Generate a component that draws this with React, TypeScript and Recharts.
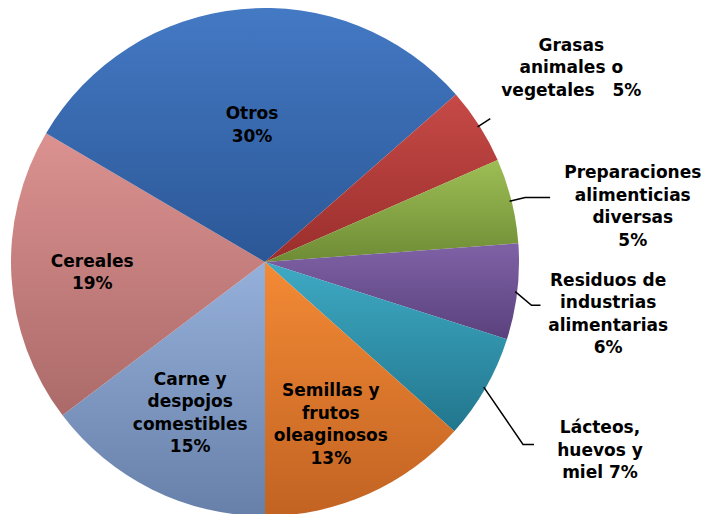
import React from 'react';
import { PieChart, Pie, Cell } from 'recharts';

const categories = [
  'Carne y despojos comestibles',
  'Cereales',
  'Otros',
  'Grasas animales o vegetales',
  'Preparaciones alimenticias diversas',
  'Residuos de industrias alimentarias',
  'Lácteos, huevos y miel',
  'Semillas y frutos oleaginosos',
];
const shares = [14.7, 18.8, 30.1, 4.9, 5.4, 6.1, 6.7, 13.4];
const labelLines = [
  ['Carne y', 'despojos', 'comestibles', '15%'],
  ['Cereales', '19%'],
  ['Otros', '30%'],
  ['Grasas', 'animales o', 'vegetales\u00a0\u00a0 5%'],
  ['Preparaciones', 'alimenticias', 'diversas', '5%'],
  ['Residuos de', 'industrias', 'alimentarias', '6%'],
  ['Lácteos,', 'huevos y', 'miel 7%'],
  ['Semillas y', 'frutos', 'oleaginosos', '13%'],
];

// top / bottom colours of each slice's gradient
const topColors = ['#95B0DA', '#DB9290', '#4479C4', '#C64A47', '#9DBE55', '#7F62A6', '#3FAAC4', '#F38A35'];
const bottomColors = ['#6780A9', '#AB6A69', '#2B5796', '#9A2E2C', '#6E8C35', '#5A417D', '#21768D', '#C26323'];

// label placement: radius, angle nudge, leader elbow radius / nudge / tail
const labelLayout = [
  { r: 168, da: 0 },
  { r: 173, da: 0 },
  { r: 138, da: 0 },
  { r: 363, da: 0, elbowR: 267, elbowDa: 0, tail: 0 },
  { r: 372, da: -5.3, elbowR: 268, elbowDa: 0, tail: 25 },
  { r: 347, da: -1.8, elbowR: 270, elbowDa: -2.5, tail: 9 },
  { r: 384, da: 0.5, elbowR: 316, elbowDa: -5.5, tail: 11 },
  { r: 175, da: -2, },
];

const data = categories.map((name, i) => ({ name, value: shares[i] }));

const RAD = Math.PI / 180;
const polar = (cx: number, cy: number, r: number, deg: number) => ({
  x: cx + r * Math.cos(-deg * RAD),
  y: cy + r * Math.sin(-deg * RAD),
});

const LINE_H = 22.5;

const renderLabel = (props: any) => {
  const { cx, cy, midAngle, outerRadius, index } = props;
  const lay: any = labelLayout[index];
  const lines = labelLines[index];
  const p = polar(cx, cy, lay.r, midAngle + lay.da);
  const y0 = p.y - ((lines.length - 1) * LINE_H) / 2;
  let leader = null;
  if (lay.elbowR) {
    const a = polar(cx, cy, outerRadius - 2, midAngle);
    const b = polar(cx, cy, lay.elbowR, midAngle + lay.elbowDa);
    const pts = `${a.x},${a.y} ${b.x},${b.y} ${b.x + lay.tail},${b.y}`;
    leader = <polyline points={pts} fill="none" stroke="#000" strokeWidth={1.5} />;
  }
  return (
    <g key={`lbl-${index}`}>
      {leader}
      <text
        x={p.x}
        y={y0}
        textAnchor="middle"
        dominantBaseline="central"
        fontFamily="'DejaVu Sans', sans-serif"
        fontWeight="bold"
        fontSize={17}
        fill="#000"
      >
        {lines.map((t, j) => (
          <tspan key={j} x={p.x} y={y0 + j * LINE_H}>
            {t}
          </tspan>
        ))}
      </text>
    </g>
  );
};

const App: React.FC = () => {
  return (
    <div style={{ position: 'fixed', left: 0, top: 0, width: 704, height: 514, background: '#fff' }}>
      <PieChart width={704} height={514} margin={{ top: 0, right: 0, bottom: 0, left: 0 }}>
        <defs>
          {topColors.map((c, i) => (
            <linearGradient key={i} id={`slice${i}`} x1="0" y1="0" x2="0" y2="1">
              <stop offset="0%" stopColor={c} />
              <stop offset="100%" stopColor={bottomColors[i]} />
            </linearGradient>
          ))}
        </defs>
        <Pie
          data={data}
          dataKey="value"
          nameKey="name"
          cx={265}
          cy={262}
          outerRadius={254}
          startAngle={270}
          endAngle={-90}
          stroke="none"
          label={renderLabel}
          labelLine={false}
          isAnimationActive={false}
        >
          {data.map((_, i) => (
            <Cell key={i} fill={`url(#slice${i})`} />
          ))}
        </Pie>
      </PieChart>
    </div>
  );
};

export default App;
